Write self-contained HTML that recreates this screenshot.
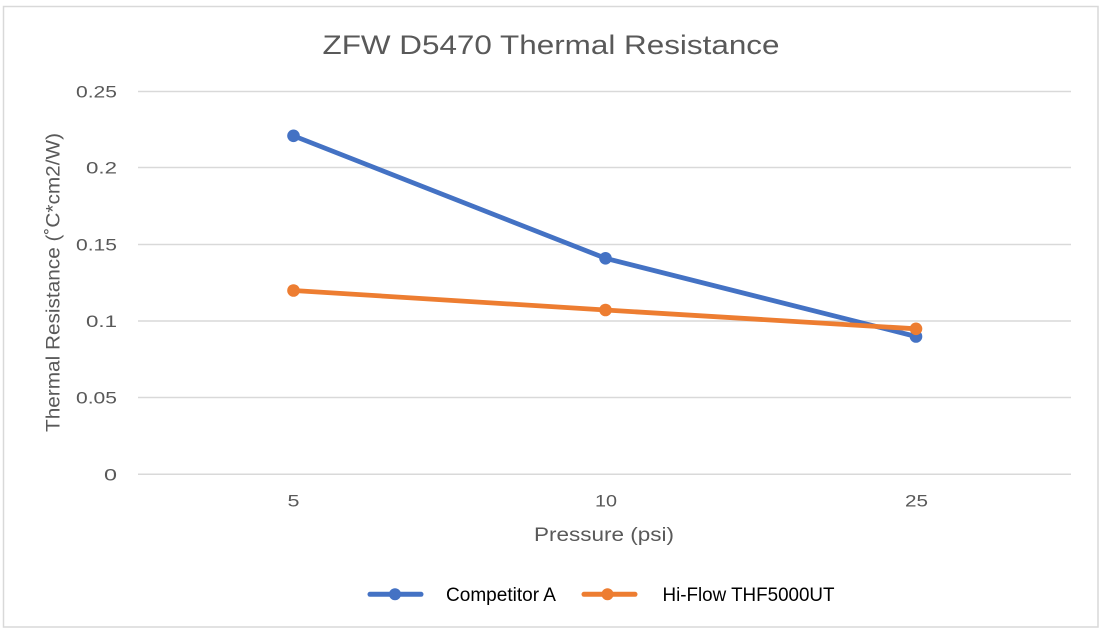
<!DOCTYPE html>
<html>
<head>
<meta charset="utf-8">
<style>
  html, body { margin: 0; padding: 0; background: #ffffff; }
  svg { display: block; }
</style>
</head>
<body>
<svg width="1104" height="632" viewBox="0 0 1104 632" xmlns="http://www.w3.org/2000/svg">
  <rect x="0" y="0" width="1104" height="632" fill="#ffffff"/>
  <!-- chart border -->
  <rect x="3.5" y="6.5" width="1094.5" height="620.5" fill="none" stroke="#d9d9d9" stroke-width="1.5"/>

  <!-- title -->
  <text x="322.5" y="54" font-family="Liberation Sans, DejaVu Sans, sans-serif" font-size="26.5" fill="#595959" textLength="457" lengthAdjust="spacingAndGlyphs">ZFW D5470 Thermal Resistance</text>

  <!-- gridlines -->
  <g stroke="#d9d9d9" stroke-width="1.5">
    <line x1="138" y1="91.5" x2="1071" y2="91.5"/>
    <line x1="138" y1="167.5" x2="1071" y2="167.5"/>
    <line x1="138" y1="244.5" x2="1071" y2="244.5"/>
    <line x1="138" y1="321" x2="1071" y2="321"/>
    <line x1="138" y1="397.5" x2="1071" y2="397.5"/>
    <line x1="138" y1="474.3" x2="1071" y2="474.3"/>
  </g>

  <!-- y tick labels -->
  <g font-family="Liberation Sans, DejaVu Sans, sans-serif" font-size="16.5" fill="#595959">
    <text x="76" y="97.5" textLength="41" lengthAdjust="spacingAndGlyphs">0.25</text>
    <text x="86" y="173.5" textLength="31" lengthAdjust="spacingAndGlyphs">0.2</text>
    <text x="76" y="250.5" textLength="41" lengthAdjust="spacingAndGlyphs">0.15</text>
    <text x="86" y="327" textLength="31" lengthAdjust="spacingAndGlyphs">0.1</text>
    <text x="76" y="403.5" textLength="41" lengthAdjust="spacingAndGlyphs">0.05</text>
    <text x="104" y="480.3" textLength="13" lengthAdjust="spacingAndGlyphs">0</text>
  </g>

  <!-- x tick labels -->
  <g font-family="Liberation Sans, DejaVu Sans, sans-serif" font-size="16.5" fill="#595959">
    <text x="287.5" y="506.5" textLength="12" lengthAdjust="spacingAndGlyphs">5</text>
    <text x="595" y="506.5" textLength="22" lengthAdjust="spacingAndGlyphs">10</text>
    <text x="905" y="506.5" textLength="23" lengthAdjust="spacingAndGlyphs">25</text>
  </g>

  <!-- axis titles -->
  <text x="534" y="541" font-family="Liberation Sans, DejaVu Sans, sans-serif" font-size="19.5" fill="#595959" textLength="140" lengthAdjust="spacingAndGlyphs">Pressure (psi)</text>
  <text transform="translate(59.5,432) rotate(-90)" x="0" y="0" font-family="Liberation Sans, DejaVu Sans, sans-serif" font-size="19" fill="#595959" textLength="299" lengthAdjust="spacingAndGlyphs">Thermal Resistance (˚C*cm2/W)</text>

  <!-- series: Competitor A -->
  <polyline points="293.5,135.8 605.5,258.3 916,336.5" fill="none" stroke="#4472c4" stroke-width="4.8" stroke-linejoin="round" stroke-linecap="round"/>
  <g fill="#4472c4">
    <circle cx="293.5" cy="135.8" r="6.3"/>
    <circle cx="605.5" cy="258.3" r="6.3"/>
    <circle cx="916" cy="336.5" r="6.3"/>
  </g>

  <!-- series: Hi-Flow -->
  <polyline points="293.5,290.5 605.5,310 916,328.8" fill="none" stroke="#ed7d31" stroke-width="4.8" stroke-linejoin="round" stroke-linecap="round"/>
  <g fill="#ed7d31">
    <circle cx="293.5" cy="290.5" r="6.3"/>
    <circle cx="605.5" cy="310" r="6.3"/>
    <circle cx="916" cy="328.8" r="6.3"/>
  </g>

  <!-- legend -->
  <line x1="370" y1="594.3" x2="421" y2="594.3" stroke="#4472c4" stroke-width="5" stroke-linecap="round"/>
  <circle cx="395" cy="594.3" r="6" fill="#4472c4"/>
  <text x="446" y="601" font-family="Liberation Sans, Arial, sans-serif" font-size="19" fill="#000000" textLength="110" lengthAdjust="spacingAndGlyphs">Competitor A</text>

  <line x1="584" y1="594.3" x2="635" y2="594.3" stroke="#ed7d31" stroke-width="5" stroke-linecap="round"/>
  <circle cx="607.5" cy="594.3" r="6" fill="#ed7d31"/>
  <text x="662.5" y="601" font-family="Liberation Sans, Arial, sans-serif" font-size="19" fill="#000000" textLength="172" lengthAdjust="spacingAndGlyphs">Hi-Flow THF5000UT</text>
</svg>
</body>
</html>
